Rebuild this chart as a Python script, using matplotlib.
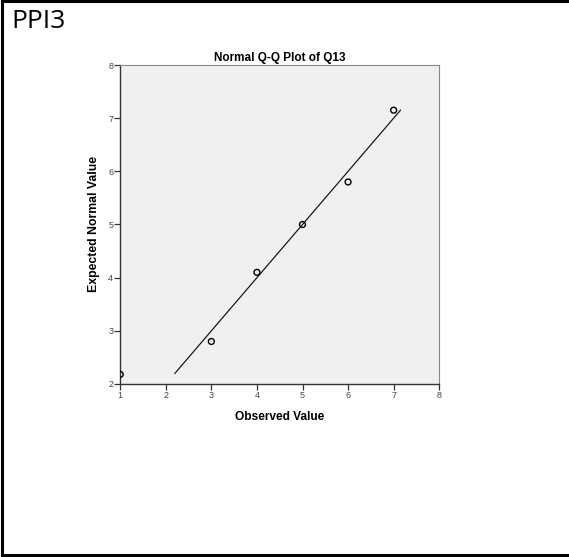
import matplotlib.pyplot as plt
import numpy as np

# observed scores and their expected normal values
observed = [1, 3, 4, 5, 6, 7]
expected = [2.18, 2.80, 4.10, 5.00, 5.80, 7.15]
# reference line (y = x) end points
line_ends = [2.2, 7.15]

xticks = [1, 2, 3, 4, 5, 6, 7, 8]
yticks = [2, 3, 4, 5, 6, 7, 8]

plt.rcParams['font.family'] = ['Liberation Sans', 'DejaVu Sans']

fig = plt.figure(figsize=(5.69, 5.57), dpi=100)

# outer box (left, top, bottom edges)
fig.add_artist(plt.Line2D([0.004, 0.004], [0.003, 0.998], color='black', lw=2.2))
fig.add_artist(plt.Line2D([0.004, 1.0], [0.998, 0.998], color='black', lw=2.2))
fig.add_artist(plt.Line2D([0.004, 1.0], [0.003, 0.003], color='black', lw=2.2))

fig.text(0.020, 0.962, 'PPI3', fontsize=19, family=['Open Sans', 'DejaVu Sans'],
         va='center', ha='left')

ax = fig.add_axes([0.2113, 0.3106, 0.5606, 0.5727])
ax.set_facecolor('#f0f0f0')
ax.plot(line_ends, line_ends, color='#1a1a1a', lw=0.9)
ax.scatter(observed, expected, s=18, facecolors='none', edgecolors='black',
           linewidths=1.0, zorder=3)

ax.set_xlim(1, 8)
ax.set_ylim(2, 8)
ax.set_xticks(xticks)
ax.set_yticks(yticks)
ax.tick_params(direction='out', length=4, width=0.9, color='#333333',
               labelsize=6.5, labelcolor='#444444', pad=1)

for side in ['left', 'bottom']:
    ax.spines[side].set_color('#333333')
    ax.spines[side].set_linewidth(1.0)
for side in ['top', 'right']:
    ax.spines[side].set_color('#888888')
    ax.spines[side].set_linewidth(0.8)

ax.set_title('Normal Q-Q Plot of Q13', fontsize=8.5, fontweight='bold', pad=3)
ax.set_xlabel('Observed Value', fontsize=8.6, fontweight='bold', labelpad=8)
ax.set_ylabel('Expected Normal Value', fontsize=8.8, fontweight='bold', labelpad=6)

fig.savefig('out.png', dpi=100)
